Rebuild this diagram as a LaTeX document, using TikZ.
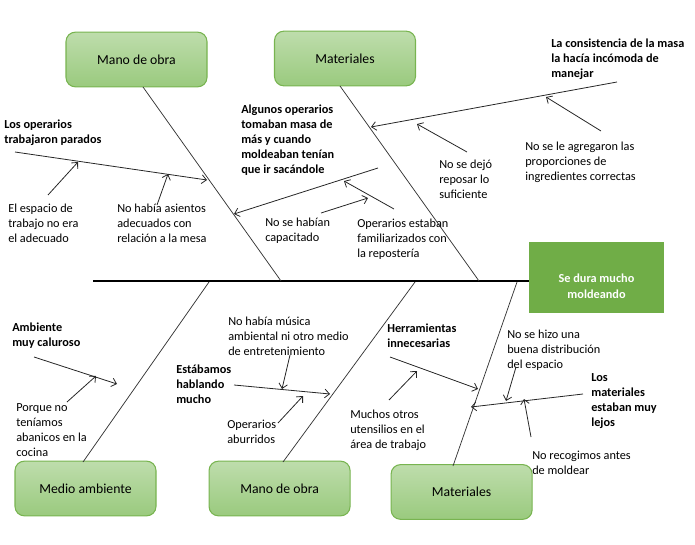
\documentclass[tikz,border=0pt]{standalone}
\usepackage{fontspec}
\setmainfont{Carlito}
\usetikzlibrary{arrows.meta,positioning}

\definecolor{boxtop}{RGB}{190,221,172}
\definecolor{boxbottom}{RGB}{154,202,126}
\definecolor{boxline}{RGB}{120,180,80}
\definecolor{effectgreen}{RGB}{112,173,71}

\begin{document}
\begin{tikzpicture}[x=0.75pt,y=-0.75pt,font=\fontsize{9.2}{11.25}\selectfont]
	\tikzstyle{cause} = [rectangle, rounded corners=7pt, minimum width=105.75pt,
	minimum height=41pt, text centered, draw=boxline, line width=0.8pt,
	top color=boxtop, bottom color=boxbottom, font=\fontsize{10.3}{12}\selectfont]
	\tikzstyle{effect} = [rectangle, minimum width=101.25pt, minimum height=53.25pt,
	fill=effectgreen]
	\tikzstyle{note} = [anchor=north west, inner sep=0pt, align=left, text=black]
	\tikzstyle{boldnote} = [note, font=\fontsize{9.2}{11.25}\selectfont\bfseries]
	\tikzstyle{spine} = [line width=1.5pt, black]
	\tikzstyle{bone} = [line width=0.55pt, black!80]
	\tikzstyle{arrow} = [line width=0.6pt, black!85, ->,
	>={Straight Barb[length=3.5pt,width=6.5pt]}]
	\useasboundingbox (0,0) rectangle (695,545);

	% boxes
	\node (manoTop) [cause] at (136.5,59.5) {Mano de obra};
	\node (matTop) [cause] at (345,58.5) {Materiales};
	\node (medio) [cause] at (85.5,488.5) {Medio ambiente};
	\node (manoBot) [cause, right=39pt of medio] {Mano de obra};
	\node (matBot) [cause, right=30pt of manoBot, yshift=-2.6pt] {Materiales};
	\node (effect) [effect] at (596.5,277.5) {};
	\node (effectLabel) [align=center, text=white, font=\fontsize{9.2}{12}\selectfont\bfseries]
		at (596.5,286) {Se dura mucho\\moldeando};

	% spine and bones
	\coordinate (tail) at (93,281);
	\draw [spine] (tail) -- (tail -| effect.west);
	\coordinate (manoTopEnd) at (143,87);
	\coordinate (manoTopSp) at (281,281);
	\coordinate (matTopEnd) at (340,86);
	\coordinate (matTopSp) at (479,281);
	\coordinate (medioEnd) at (83,462);
	\coordinate (medioSp) at (209,282);
	\coordinate (manoBotEnd) at (283,462);
	\coordinate (manoBotSp) at (415,282);
	\coordinate (matBotEnd) at (453,466);
	\coordinate (matBotSp) at (517,282);
	\draw [bone] (manoTopEnd) -- (manoTopSp);
	\draw [bone] (matTopEnd) -- (matTopSp);
	\draw [bone] (medioEnd) -- (medioSp);
	\draw [bone] (manoBotEnd) -- (manoBotSp);
	\draw [bone] (matBotEnd) -- (matBotSp);

	% texts
	\node (parados) [boldnote] at (4,120) {Los operarios\\trabajaron parados};
	\node (espacio) [note] at (8,204) {El espacio de\\trabajo no era\\el adecuado};
	\node (asientos) [note] at (117,204) {No había asientos\\adecuados con\\relación a la mesa};
	\node (sacandole) [boldnote] at (241,105) {Algunos operarios\\tomaban masa de\\más y cuando\\moldeaban tenían\\que ir sacándole};
	\node (capacitado) [note] at (265,218) {No se habían\\capacitado};
	\node (reposteria) [note] at (357,219) {Operarios estaban\\familiarizados con\\la repostería};
	\node (consistencia) [boldnote] at (551,39) {La consistencia de la masa\\la hacía incómoda de\\manejar};
	\node (reposar) [note] at (439,160) {No se dejó\\reposar lo\\suficiente};
	\node (proporciones) [note] at (525,142) {No se le agregaron las\\proporciones de\\ingredientes correctas};
	\node (caluroso) [boldnote] at (12,323) {Ambiente\\muy caluroso};
	\node (abanicos) [note] at (16,403) {Porque no\\teníamos\\abanicos en la\\cocina};
	\node (hablando) [boldnote] at (176,365) {Estábamos\\hablando\\mucho};
	\node (musica) [note] at (228,317) {No había música\\ambiental ni otro medio\\de entretenimiento};
	\node (aburridos) [note] at (227,420) {Operarios\\aburridos};
	\node (innecesarias) [boldnote] at (387,324) {Herramientas\\innecesarias};
	\node (utensilios) [note] at (350,410) {Muchos otros\\utensilios en el\\área de trabajo};
	\node (lejos) [boldnote] at (591,373) {Los\\materiales\\estaban muy\\lejos};
	\node (distribucion) [note] at (507,330) {No se hizo una\\buena distribución\\del espacio};
	\node (recogimos) [note] at (532,451) {No recogimos antes\\de moldear};

	% sub-causes
	\coordinate (paradosTail) at (15,152);
	\coordinate (paradosHead) at (207,180);
	\coordinate (sacandoleTail) at (378,168);
	\coordinate (sacandoleHead) at (234,214);
	\coordinate (consistenciaTail) at (617,82);
	\coordinate (consistenciaHead) at (371,127);
	\coordinate (calurosoTail) at (34,357);
	\coordinate (calurosoHead) at (117,384);
	\coordinate (hablandoTail) at (234,385);
	\coordinate (hablandoHead) at (330,394);
	\coordinate (innecesariasTail) at (390,357);
	\coordinate (innecesariasHead) at (478,389);
	\coordinate (lejosTail) at (583,394);
	\coordinate (lejosHead) at (471,407);
	\draw [arrow] (paradosTail) -- (paradosHead);
	\draw [arrow] (sacandoleTail) -- (sacandoleHead);
	\draw [arrow] (consistenciaTail) -- (consistenciaHead);
	\draw [arrow] (calurosoTail) -- (calurosoHead);
	\draw [arrow] (hablandoTail) -- (hablandoHead);
	\draw [arrow] (innecesariasTail) -- (innecesariasHead);
	\draw [arrow] (lejosTail) -- (lejosHead);

	% reasons
	\coordinate (espacioTail) at (48,195);
	\coordinate (espacioHead) at (78,162);
	\coordinate (asientosTail) at (157,205);
	\coordinate (asientosHead) at (168,174);
	\coordinate (capacitadoTail) at (321,213);
	\coordinate (capacitadoHead) at (368,198);
	\coordinate (reposteriaTail) at (394,209);
	\coordinate (reposteriaHead) at (344,181);
	\coordinate (reposarTail) at (467,152);
	\coordinate (reposarHead) at (417,124);
	\coordinate (proporcionesTail) at (601,131);
	\coordinate (proporcionesHead) at (546,97);
	\coordinate (abanicosTail) at (67,402);
	\coordinate (abanicosHead) at (96,376);
	\coordinate (musicaTail) at (290,355);
	\coordinate (musicaHead) at (282,389);
	\coordinate (aburridosTail) at (278,423);
	\coordinate (aburridosHead) at (303,396);
	\coordinate (utensiliosTail) at (389,400);
	\coordinate (utensiliosHead) at (417,371);
	\coordinate (distribucionTail) at (516,367);
	\coordinate (distribucionHead) at (506,401);
	\coordinate (recogimosTail) at (531,437);
	\coordinate (recogimosHead) at (524,399);
	\draw [arrow] (espacioTail) -- (espacioHead);
	\draw [arrow] (asientosTail) -- (asientosHead);
	\draw [arrow] (capacitadoTail) -- (capacitadoHead);
	\draw [arrow] (reposteriaTail) -- (reposteriaHead);
	\draw [arrow] (reposarTail) -- (reposarHead);
	\draw [arrow] (proporcionesTail) -- (proporcionesHead);
	\draw [arrow] (abanicosTail) -- (abanicosHead);
	\draw [arrow] (musicaTail) -- (musicaHead);
	\draw [arrow] (aburridosTail) -- (aburridosHead);
	\draw [arrow] (utensiliosTail) -- (utensiliosHead);
	\draw [arrow] (distribucionTail) -- (distribucionHead);
	\draw [arrow] (recogimosTail) -- (recogimosHead);
\end{tikzpicture}
\end{document}
